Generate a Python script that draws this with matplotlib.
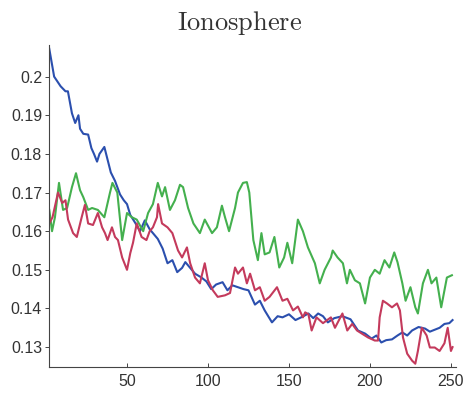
import matplotlib
matplotlib.use("Agg")
import matplotlib.pyplot as plt
from matplotlib.ticker import MultipleLocator

plt.rcParams['font.family'] = ['Liberation Sans', 'DejaVu Sans']
plt.rcParams['mathtext.fontset'] = 'cm'

# error curves over the number of iterations
x_blue = [2, 5, 9, 12, 13.5, 16, 18, 20, 21, 23, 26, 28, 29.6, 31.5, 33, 36, 38, 40, 42.6,
          45.7, 48, 50, 52, 55, 58, 61, 64, 67, 69, 72, 75, 78, 81, 84, 86, 89, 92, 96, 99,
          102, 105, 109, 112, 115, 118.5, 122, 125, 129, 132, 135, 139.5, 143, 146, 150,
          154, 158, 162, 165, 168, 171, 174, 178, 183, 188, 192.6, 197, 201, 204, 207, 210,
          213.6, 217, 220, 223, 226, 230, 234, 237, 240, 243, 246, 249, 251]
y_blue = [0.2072, 0.2000, 0.1975, 0.1962, 0.1962, 0.1905, 0.1880, 0.1900, 0.1865, 0.1852,
          0.1850, 0.1815, 0.1800, 0.1780, 0.1800, 0.1818, 0.1785, 0.1752, 0.1730, 0.1695,
          0.1680, 0.1670, 0.1642, 0.1622, 0.1600, 0.1628, 0.1605, 0.1590, 0.1580, 0.1555,
          0.1517, 0.1525, 0.1494, 0.1505, 0.1520, 0.1505, 0.1490, 0.1480, 0.1470, 0.1450,
          0.1462, 0.1468, 0.1447, 0.1460, 0.1455, 0.1450, 0.1447, 0.1410, 0.1420, 0.1395,
          0.1364, 0.1380, 0.1377, 0.1385, 0.1370, 0.1378, 0.1387, 0.1375, 0.1387, 0.1380,
          0.1364, 0.1375, 0.1380, 0.1372, 0.1343, 0.1335, 0.1322, 0.1330, 0.1312, 0.1318,
          0.1320, 0.1330, 0.1338, 0.1330, 0.1343, 0.1352, 0.1348, 0.1340, 0.1345, 0.1350,
          0.1360, 0.1362, 0.1370]

x_green = [2, 3.7, 5.5, 8, 10.5, 13, 16, 18.5, 21, 23, 26, 28.4, 32, 36, 39.5, 41, 44,
           45.7, 47, 50, 53, 56, 60, 63, 66, 69, 71.6, 73.5, 76.5, 79.6, 82.7, 84.6, 87.7,
           91, 95, 98, 102.5, 105.5, 108.6, 110.5, 113, 116.7, 118.5, 121.6, 124, 125.5,
           128, 130.8, 133, 135, 138, 141, 144, 147, 149, 152, 155.5, 158.6, 161.7, 166,
           169, 172, 175.9, 177, 180, 183.3, 185.8, 187.6, 190.7, 193.8, 197, 200, 203, 206,
           209, 212, 215, 217, 220, 222, 225, 228, 229.6, 232.7, 235.8, 238, 241, 244,
           247.5, 250.6]
y_green = [0.1655, 0.1600, 0.1636, 0.1725, 0.1655, 0.1660, 0.1714, 0.1750, 0.1706, 0.1688,
           0.1655, 0.1660, 0.1655, 0.1636, 0.1700, 0.1725, 0.1700, 0.1630, 0.1577, 0.1647,
           0.1636, 0.1630, 0.1600, 0.1647, 0.1670, 0.1725, 0.1690, 0.1714, 0.1655, 0.1680,
           0.1720, 0.1714, 0.1660, 0.1620, 0.1595, 0.1630, 0.1595, 0.1610, 0.1666, 0.1636,
           0.1600, 0.1660, 0.1700, 0.1725, 0.1727, 0.1700, 0.1577, 0.1525, 0.1595, 0.1540,
           0.1545, 0.1585, 0.1506, 0.1532, 0.1570, 0.1517, 0.1630, 0.1600, 0.1558, 0.1517,
           0.1465, 0.1500, 0.1532, 0.1550, 0.1532, 0.1517, 0.1465, 0.1500, 0.1473, 0.1465,
           0.1413, 0.1480, 0.1500, 0.1490, 0.1525, 0.1506, 0.1545, 0.1520, 0.1465, 0.1420,
           0.1455, 0.1403, 0.1387, 0.1465, 0.1500, 0.1465, 0.1480, 0.1403, 0.1480, 0.1486]

x_red = [2, 4, 7.4, 10, 12, 13.6, 16.7, 19, 22, 24, 26, 29, 32, 34.6, 36.4, 38, 40.7,
         42.6, 44.4, 47, 50, 52, 53.7, 56, 59, 62, 64, 66, 68.5, 69.2, 71.6, 75, 78, 81.5,
         84, 87, 89, 92, 95, 98, 100, 103, 106, 110.5, 113.6, 116.7, 118.5, 121.6, 124,
         126, 129, 132, 135, 138, 142.6, 146, 149, 152.5, 155.5, 158.6, 160, 162, 164, 167,
         171, 175.9, 178.4, 183, 186, 189, 192, 195, 198.8, 203, 205, 206, 208, 210.5,
         213.6, 216.7, 218.5, 220.4, 223, 226, 228, 229.6, 232, 235, 237, 240, 243, 246,
         248, 250, 251]
y_red = [0.1620, 0.1636, 0.1700, 0.1673, 0.1680, 0.1630, 0.1595, 0.1585, 0.1636, 0.1668,
         0.1620, 0.1616, 0.1647, 0.1610, 0.1595, 0.1577, 0.1610, 0.1585, 0.1577, 0.1532,
         0.1500, 0.1543, 0.1570, 0.1620, 0.1585, 0.1577, 0.1600, 0.1610, 0.1636, 0.1670,
         0.1620, 0.1610, 0.1595, 0.1550, 0.1532, 0.1558, 0.1517, 0.1480, 0.1465, 0.1517,
         0.1473, 0.1447, 0.1430, 0.1434, 0.1440, 0.1506, 0.1490, 0.1506, 0.1465, 0.1490,
         0.1447, 0.1455, 0.1420, 0.1430, 0.1455, 0.1420, 0.1425, 0.1395, 0.1405, 0.1377,
         0.1390, 0.1385, 0.1343, 0.1377, 0.1362, 0.1377, 0.1350, 0.1387, 0.1343, 0.1360,
         0.1343, 0.1335, 0.1325, 0.1317, 0.1317, 0.1377, 0.1420, 0.1413, 0.1403, 0.1413,
         0.1395, 0.1325, 0.1283, 0.1265, 0.1257, 0.1290, 0.1350, 0.1330, 0.1299, 0.1299,
         0.1290, 0.1310, 0.1350, 0.1290, 0.1300]

fig = plt.figure(figsize=(4.67, 3.94), dpi=100)
ax = fig.add_axes([0.105, 0.068, 0.871, 0.817])

ax.plot(x_blue, y_blue, color='#2b4fae', linewidth=1.5)
ax.plot(x_green, y_green, color='#44b04e', linewidth=1.5)
ax.plot(x_red, y_red, color='#c43a5c', linewidth=1.5)

ax.set_xlim(1.85, 253)
ax.set_ylim(0.1248, 0.2081)

ax.spines['top'].set_visible(False)
ax.spines['right'].set_visible(False)
for s in ('left', 'bottom'):
    ax.spines[s].set_linewidth(0.8)
    ax.spines[s].set_color('#444444')

ax.xaxis.set_major_locator(MultipleLocator(50))
ax.set_yticks([0.13, 0.14, 0.15, 0.16, 0.17, 0.18, 0.19, 0.2])
ax.set_yticklabels(['0.13', '0.14', '0.15', '0.16', '0.17', '0.18', '0.19', '0.2'])
ax.tick_params(which='major', width=0.7, colors='#444444',
               labelsize=11.5, labelcolor='#333333')
ax.tick_params(axis='x', direction='in', length=3, pad=5)
ax.tick_params(axis='y', direction='out', length=3, pad=2)

fig.text(0.514, 1 - 30 / 394, r'$\mathrm{Ionosphere}$', ha='center', va='baseline',
         fontsize=19, color='#333333')

fig.savefig('out.png', dpi=100)
